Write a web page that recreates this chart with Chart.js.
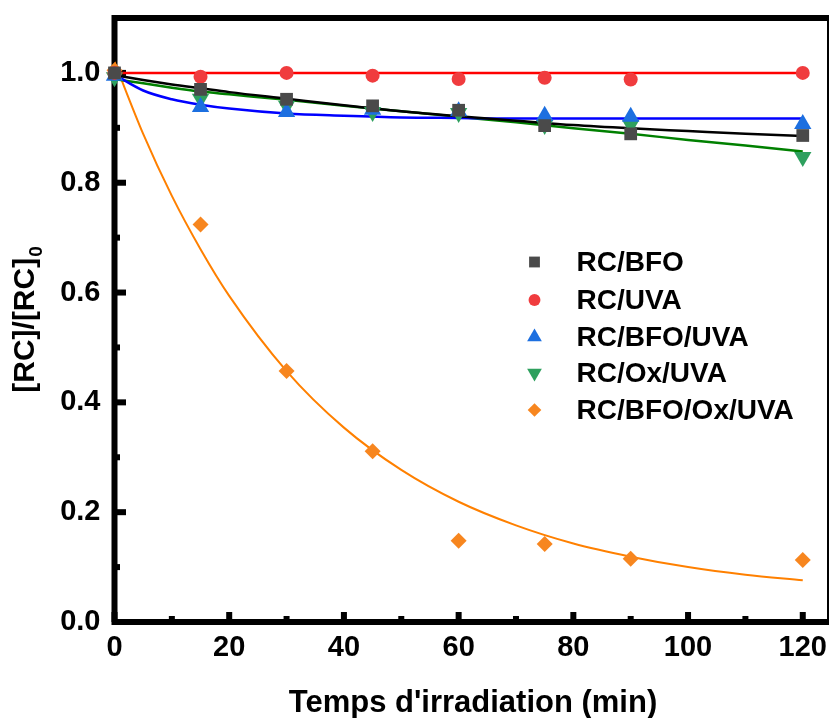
<!DOCTYPE html>
<html>
<head>
<meta charset="utf-8">
<style>
  html, body { margin: 0; padding: 0; background: #fff; overflow: hidden; }
  #kineticsChart { display: block; }
</style>
</head>
<body>
<canvas id="kineticsChart" width="831" height="718"></canvas>

<script src="https://cdn.jsdelivr.net/npm/chart.js"></script>

<script>

// measured points
const times = [0, 15, 30, 45, 60, 75, 90, 120];
const rcBfo = [1.000, 0.970, 0.952, 0.940, 0.932, 0.904, 0.889, 0.886];
const rcUva = [1.000, 0.993, 1.000, 0.995, 0.989, 0.991, 0.988, 1.000];
const rcBfoUva = [0.995, 0.938, 0.929, 0.933, 0.930, 0.922, 0.920, 0.907];
const rcOxUva = [0.992, 0.953, 0.940, 0.929, 0.927, 0.905, 0.905, 0.847];
const rcBfoOxUva = [1.005, 0.724, 0.457, 0.311, 0.148, 0.142, 0.115, 0.113];

// fitted curves
const fitTimes = [0, 5, 10, 15, 20, 30, 40, 50, 60, 70, 80, 90, 100, 110, 120];
const fitBfo = [0.996, 0.987, 0.979, 0.972, 0.965, 0.953, 0.941, 0.930, 0.921, 0.913, 0.905, 0.899, 0.894, 0.889, 0.885];
const fitUva = [1.0, 1.0, 1.0, 1.0, 1.0, 1.0, 1.0, 1.0, 1.0, 1.0, 1.0, 1.0, 1.0, 1.0, 1.0];
const fitBfoUva = [0.997, 0.968, 0.952, 0.942, 0.935, 0.926, 0.922, 0.919, 0.918, 0.917, 0.917, 0.917, 0.917, 0.917, 0.917];
const fitOxUva = [0.989, 0.981, 0.973, 0.966, 0.961, 0.951, 0.940, 0.930, 0.920, 0.910, 0.899, 0.889, 0.878, 0.868, 0.857];
const fitBfoOxUva = [1.020, 0.889, 0.776, 0.679, 0.594, 0.457, 0.354, 0.277, 0.219, 0.176, 0.143, 0.119, 0.100, 0.086, 0.076];

const seriesLabels = ['RC/BFO', 'RC/UVA', 'RC/BFO/UVA', 'RC/Ox/UVA', 'RC/BFO/Ox/UVA'];
const xTickStep = 20;
const yTickStep = 0.2;

const FONT = "'Liberation Sans', Arial, sans-serif";

function pts(xs, ys) {
    return xs.map((x, i) => ({ x: x, y: ys[i] }));
}

function markers(label, ys, color, style, radius, rotation) {
    return {
        type: 'scatter',
        label: label,
        data: pts(times, ys),
        showLine: false,
        pointStyle: style,
        pointRadius: radius,
        pointHoverRadius: radius,
        pointRotation: rotation || 0,
        pointBackgroundColor: color,
        pointBorderColor: color,
        pointBorderWidth: 0,
        backgroundColor: color,
        borderColor: color,
        clip: false,
        order: 1
    };
}

function fitLine(ys, color, width) {
    return {
        type: 'line',
        label: '',
        data: pts(fitTimes, ys),
        borderColor: color,
        borderWidth: width,
        pointRadius: 0,
        fill: false,
        cubicInterpolationMode: 'monotone',
        order: 2
    };
}

const markerSets = [
    markers(seriesLabels[0], rcBfo, '#4a4a4a', 'rect', 9, 0),
    markers(seriesLabels[1], rcUva, '#f03c3e', 'circle', 7, 0),
    markers(seriesLabels[2], rcBfoUva, '#1c6fe0', 'triangle', 10, 0),
    markers(seriesLabels[3], rcOxUva, '#2ea05e', 'triangle', 10, 180),
    markers(seriesLabels[4], rcBfoOxUva, '#f7861f', 'rectRot', 8, 0)
];

// frame with inward ticks
const framePlugin = {
    id: 'framePlugin',
    beforeDatasetsDraw(chart) {
        const { ctx, chartArea: a, scales } = chart;
        const x = scales.x, y = scales.y;
        ctx.save();
        ctx.fillStyle = '#000';

        const xv = x.ticks.map(t => t.value);
        xv.forEach((v, i) => {
            const px = x.getPixelForValue(v);
            ctx.fillRect(px - 3, a.bottom - 10, 6, 10);
            if (i < xv.length - 1) {
                const mx = x.getPixelForValue((v + xv[i + 1]) / 2);
                ctx.fillRect(mx - 3, a.bottom - 6, 6, 6);
            }
        });

        const yv = y.ticks.map(t => t.value);
        yv.forEach((v, i) => {
            const py = y.getPixelForValue(v);
            ctx.fillRect(a.left, py - 3, 11.5, 6);
            if (i < yv.length - 1) {
                const my = y.getPixelForValue((v + yv[i + 1]) / 2);
                ctx.fillRect(a.left, my - 3, 5.5, 6);
            }
        });

        ctx.strokeStyle = '#000';
        ctx.lineWidth = 6;
        ctx.beginPath();
        ctx.moveTo(a.right, a.top);
        ctx.lineTo(a.left, a.top);
        ctx.lineTo(a.left, a.bottom);
        ctx.lineTo(a.right + 1, a.bottom);
        ctx.stroke();

        ctx.lineWidth = 2;
        ctx.beginPath();
        ctx.moveTo(a.right, a.top - 3);
        ctx.lineTo(a.right, a.bottom);
        ctx.stroke();
        ctx.restore();
    }
};

// legend inside the plot + axis titles
const textPlugin = {
    id: 'textPlugin',
    afterDatasetsDraw(chart) {
        const { ctx, chartArea: a } = chart;
        ctx.save();

        const legendX = a.left + 420;
        const textX = a.left + 462;
        const rowY = [262, 300, 337, 373, 410];
        ctx.font = 'bold 28px ' + FONT;
        ctx.textBaseline = 'middle';
        ctx.textAlign = 'left';
        markerSets.forEach((ds, i) => {
            ctx.fillStyle = ds.pointBackgroundColor;
            ctx.strokeStyle = ds.pointBorderColor;
            Chart.helpers.drawPoint(ctx, {
                pointStyle: ds.pointStyle,
                radius: ds.pointRadius * 0.85,
                rotation: ds.pointRotation,
                borderWidth: 0
            }, legendX, rowY[i]);
            ctx.fillStyle = '#000';
            ctx.fillText(ds.label, textX, rowY[i] + 1);
        });

        // x title
        ctx.font = 'bold 31px ' + FONT;
        ctx.textAlign = 'center';
        ctx.textBaseline = 'alphabetic';
        ctx.fillText("Temps d'irradiation (min)", 473, 712);

        // y title with subscript
        ctx.translate(34, 320);
        ctx.rotate(-Math.PI / 2);
        const main = '[RC]/[RC]';
        ctx.font = 'bold 30px ' + FONT;
        const wMain = ctx.measureText(main).width;
        ctx.font = 'bold 19px ' + FONT;
        const wSub = ctx.measureText('0').width;
        const start = -(wMain + wSub) / 2;
        ctx.textAlign = 'left';
        ctx.font = 'bold 30px ' + FONT;
        ctx.fillText(main, start, 0);
        ctx.font = 'bold 19px ' + FONT;
        ctx.fillText('0', start + wMain + 1, 8);

        ctx.restore();
    }
};

Chart.defaults.color = '#000';

new Chart(document.getElementById('kineticsChart'), {

    type: 'scatter',

    data: {
        datasets: markerSets.concat([
            fitLine(fitBfo, '#000000', 2.5),
            fitLine(fitUva, '#ff0000', 2.5),
            fitLine(fitBfoUva, '#0000ff', 2.5),
            fitLine(fitOxUva, '#008000', 2.5),
            fitLine(fitBfoOxUva, '#ff8000', 2)
        ])
    },

    options: {

        responsive: false,
        animation: false,

        layout: {
            autoPadding: false,
            padding: { left: 0, top: 18, right: 3, bottom: 0 }
        },

        plugins: {
            legend: { display: false },
            tooltip: { enabled: false }
        },

        scales: {

            x: {
                type: 'linear',
                min: 0,
                max: 124.4,
                grid: { display: false, drawTicks: false },
                border: { display: false },
                ticks: {
                    stepSize: xTickStep,
                    includeBounds: false,
                    padding: 9,
                    maxRotation: 0,
                    font: { family: FONT, size: 29, weight: 'bold' },
                    color: '#000'
                },
                afterFit: function(scale) {
                    scale.height = 96;
                    scale.paddingLeft = 0;
                    scale.paddingRight = 0;
                }
            },

            y: {
                type: 'linear',
                min: 0,
                max: 1.1,
                grid: { display: false, drawTicks: false },
                border: { display: false },
                ticks: {
                    stepSize: yTickStep,
                    includeBounds: false,
                    padding: 14,
                    font: { family: FONT, size: 29, weight: 'bold' },
                    color: '#000',
                    callback: function(v) { return Number(v).toFixed(1); }
                },
                afterFit: function(scale) {
                    scale.width = 114.5;
                    scale.paddingTop = 0;
                    scale.paddingBottom = 0;
                }
            }

        }

    },

    plugins: [framePlugin, textPlugin]

});

</script>
</body>
</html>
